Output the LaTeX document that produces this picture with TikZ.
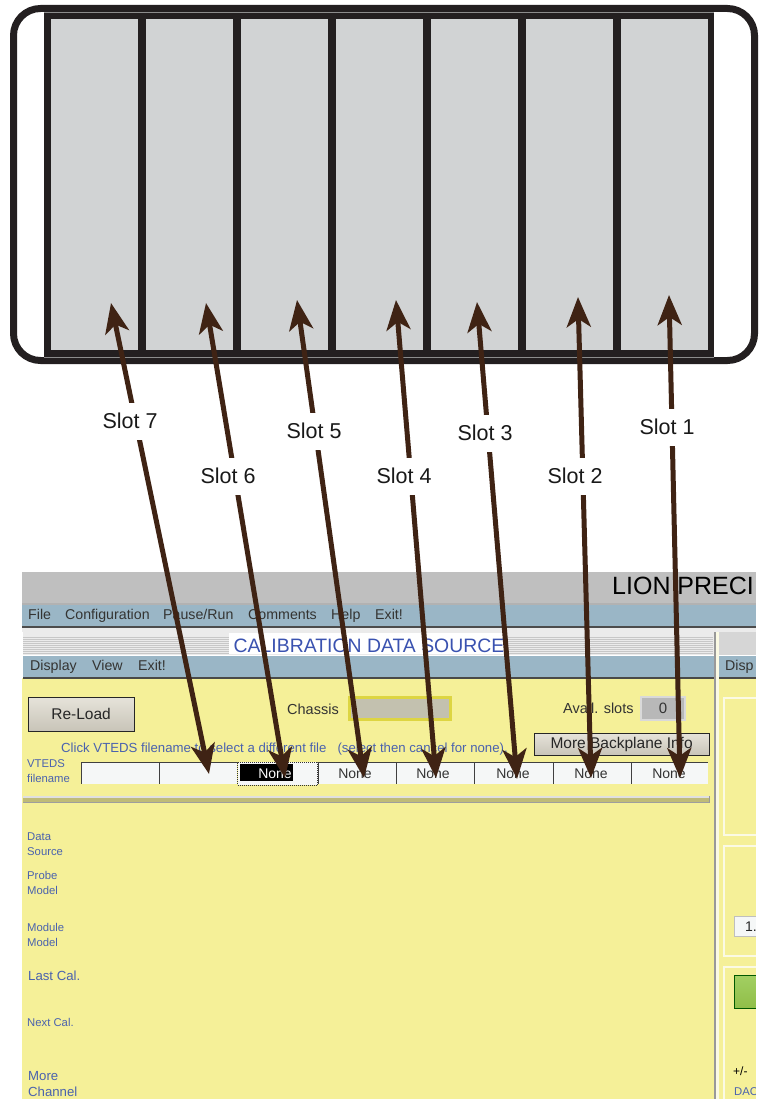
\documentclass[tikz,border=0pt]{standalone}
\usepackage{fontspec}
\setmainfont{Liberation Sans}
\usetikzlibrary{arrows.meta,positioning,calc}
\definecolor{chassisink}{HTML}{231F20}
\definecolor{cellgray}{HTML}{D1D3D4}
\definecolor{arrowbrown}{HTML}{3F2314}
\definecolor{topgray}{HTML}{BFBFBF}
\definecolor{menublue}{HTML}{9AB6C6}
\definecolor{panelyellow}{HTML}{F5F098}
\definecolor{guiblue}{HTML}{4A62AE}
\definecolor{titleblue}{HTML}{3A52B0}
\definecolor{guidark}{HTML}{4A4A48}
\definecolor{cellwhite}{HTML}{F5F7F7}
\definecolor{ivory}{HTML}{FBFAE4}
\definecolor{btntop}{HTML}{E6E3DA}
\definecolor{btnbot}{HTML}{C8C4B8}
\definecolor{greentop}{HTML}{A2CF62}
\definecolor{greenbot}{HTML}{90BE48}
\newcommand{\fsz}[1]{\fontsize{#1}{#1}\selectfont}
\tikzset{
  x=1pt,y=-1pt,
  slotcell/.style={fill=cellgray,draw=none,inner sep=0pt},
  slotlabel/.style={fill=white,inner sep=0pt,minimum width=60pt,minimum height=37pt,font=\fsz{21.5},text=black!90},
  callout/.style={draw=arrowbrown,line width=5pt,{Stealth[length=30pt,width=24pt,inset=8pt]}-{Stealth[length=30pt,width=24pt,inset=8pt]}},
  menutext/.style={anchor=base west,inner sep=0pt,font=\fsz{14.2},text=guidark!70!black},
  bluetext/.style={anchor=base west,inner sep=0pt,font=\fsz{11.3},text=guiblue},
  bluemid/.style={anchor=base west,inner sep=0pt,font=\fsz{13.2},text=guiblue},
  darktext/.style={anchor=base west,inner sep=0pt,font=\fsz{14.5},text=black!80},
  guibutton/.style={draw=black!85,line width=1.2pt,top color=btntop,bottom color=btnbot,inner sep=0pt,font=\fsz{15.5},text=black!85},
  vcell/.style={fill=cellwhite,draw=none,inner sep=0pt},
  celltext/.style={inner sep=0pt,anchor=base,font=\fsz{14},text=black!80},
  vedge/.style={draw=black!75,line width=1pt},
  framebox/.style={draw=ivory,line width=2pt},
}
\begin{document}
\begin{tikzpicture}
\useasboundingbox (0,0) rectangle (760,1099);
\fill[white] (0,0) rectangle (760,1099);

% chassis
\draw[chassisink,line width=7pt,rounded corners=27pt] (13.5,8.5) rectangle (754.5,360.5);
\fill[chassisink] (44,12) rectangle (714,357);
\foreach \n/\xa in {7/51,6/146,5/241,4/336,3/431,2/526,1/621}{
  \node[slotcell,minimum width=87pt,minimum height=331pt,anchor=north west] (cell\n) at (\xa,19) {};
}
\draw[black!45,line width=.5pt] (44,12.5) -- (714,12.5) (44,357) -- (714,357);

% screenshot backgrounds
\fill[topgray] (22,572) rectangle (756,603.5);
\fill[black!30] (22,603) rectangle (756,605);
\fill[menublue] (22,605) rectangle (756,626);
\fill[black!70] (22,626) rectangle (756,628);
\fill[white!92!black] (22,628) rectangle (756,632);
\fill[panelyellow] (22,678) rectangle (756,1099);
% left panel title strip
\fill[black!8] (23,632) rectangle (715,655);
\foreach \yy in {637,639,...,653}{
  \draw[black!22,line width=.8pt] (23,\yy) -- (229,\yy);
  \draw[black!22,line width=.8pt] (505,\yy) -- (713,\yy);
}
\node[fill=white,inner sep=0pt,minimum width=276pt,minimum height=21pt,anchor=north west] (title) at (229,633) {};
\node[anchor=base,inner sep=0pt,font=\fsz{19.4},text=titleblue] (titletext) at (369,652) {CALIBRATION DATA SOURCE};
\fill[menublue] (23,656) rectangle (715,677);
\fill[guidark] (23,677) rectangle (715,678.5);
% right panel header
\fill[black!16] (718,632) rectangle (756,655);
\fill[menublue] (718,656) rectangle (756,677);
\fill[guidark] (718,677) rectangle (756,678.5);
% divider
\fill[black!40] (714,632) rectangle (716,1099);
\fill[ivory] (716,632) rectangle (719,1099);

% right sub-panels
\draw[framebox] (756,698) -- (724,698) -- (724,835) -- (756,835);
\draw[framebox] (756,846) -- (724,846) -- (724,956) -- (756,956);
\draw[framebox] (756,967) -- (724,967) -- (724,1099);
\node[fill=cellwhite,draw=black!25,line width=1pt,inner sep=0pt,minimum width=24pt,minimum height=20pt,anchor=north west] (scale) at (734,916) {};
\node[anchor=base west,inner sep=0pt,font=\fsz{14},text=black!85] (scaletext) at (745,931) {1.};
\node[draw=black!65!green,line width=1pt,top color=greentop,bottom color=greenbot,inner sep=0pt,minimum width=24pt,minimum height=33pt,anchor=north west] (green) at (734,975) {};
\node[menutext] (disp) at (725,670) {Disp};
\node[anchor=base west,inner sep=0pt,font=\fsz{12},text=black] (plusminus) at (733,1075) {+/-};
\node[bluetext] (dac) at (734,1095) {DAC};

% top texts
\node[anchor=base west,inner sep=0pt,font=\fsz{25},text=black] (lion) at (612,594) {LION PRECI};
\node[menutext] (mfile) at (28,619) {File};
\node[menutext] (mconf) at (65,619) {Configuration};
\node[menutext] (mpause) at (163,619) {Pause/Run};
\node[menutext] (mcomm) at (248,619) {Comments};
\node[menutext] (mhelp) at (331,619) {Help};
\node[menutext] (mexit) at (375,619) {Exit!};
\node[menutext] (sdisp) at (30,670) {Display};
\node[menutext] (sview) at (92,670) {View};
\node[menutext] (sexit) at (138,670) {Exit!};

% controls
\node[guibutton,minimum width=106pt,minimum height=34pt,anchor=north west] (reload) at (27.5,696.5) {Re-Load};
\node[darktext] (chassis) at (287,714.5) {Chassis};
\node[fill=black!30!white!90!yellow,draw=yellow!70!gray,line width=2.5pt,inner sep=0pt,minimum width=101pt,minimum height=22pt,anchor=north west] (chfield) at (348,696) {};
\node[darktext] (avail) at (563,713) {Avail. slots};
\node[fill=black!28,draw=black!15,line width=2pt,inner sep=0pt,minimum width=44pt,minimum height=23pt,anchor=north west,font=\fsz{15},text=black!80] (slots) at (640,696) {0};
\node[guibutton,minimum width=175pt,minimum height=22pt,anchor=north west] (backplane) at (533.5,732.5) {More Backplane Info};
\node[bluemid] (click) at (61,752) {Click VTEDS filename to select a different file\ \ \ (select then cancel for none).};
\node[bluetext] (vt1) at (27,767) {VTEDS};
\node[bluetext] (vt2) at (27,782) {filename};

% VTEDS cells
\foreach \nm/\xa/\cw/\mx/\ct in {a/81/78/120/,b/159/78/198/,d/318/78/355/None,e/396/78/433/None,f/474/79/513/None,g/553/78/591/None,h/631/77/669/None}{
  \node[vcell,minimum width=\cw pt,minimum height=21pt,anchor=north west] (vc\nm) at (\xa,762.5) {};
  \draw[vedge] (vc\nm.south west) -- (vc\nm.north west) -- (vc\nm.north east);
  \node[celltext] (vt\nm) at (\mx,778.5) {\ct};
}
\node[fill=cellwhite,draw=black!80,densely dotted,line width=1pt,inner sep=0pt,minimum width=80pt,minimum height=23pt,anchor=north west] (vcc) at (237,761.5) {};
\node[fill=black,inner sep=0pt,minimum width=53pt,minimum height=17pt,anchor=north west] (vcsel) at (240,764) {};
\node[celltext,text=white] (vcseltext) at (275,778.5) {None};
% separator
\fill[black!22!panelyellow] (23,796) rectangle (710,802);
\fill[black!12] (23,796) rectangle (710,798);
\fill[black!38] (23,801.5) rectangle (710,802.5);
\fill[black!40] (708.5,796) rectangle (710,802.5);

% left labels
\node[bluetext] (l1a) at (27,840) {Data};
\node[bluetext] (l1b) at (27,855.5) {Source};
\node[bluetext] (l2a) at (27,879.5) {Probe};
\node[bluetext] (l2b) at (27,894.5) {Model};
\node[bluetext] (l3a) at (27,931) {Module};
\node[bluetext] (l3b) at (27,946) {Model};
\node[bluemid] (l4) at (28,980.5) {Last Cal.};
\node[bluetext] (l5) at (27,1026.5) {Next Cal.};
\node[bluemid] (l6a) at (28,1080) {More};
\node[bluemid] (l6b) at (28,1096) {Channel};

% trim the screenshot's right edge
\fill[white] (756,572) rectangle (760,1099);

% callouts
\foreach \n/\lx/\ly/\ux/\uy/\dx/\dy in {
  7/130/421/111/303/209/774,
  6/228/476/206/303/285/778,
  5/314/431/297/300/364/778,
  4/404/476/396/300/436/778,
  3/485/433/477/302/517/779,
  2/575/476/578/297/591/778,
  1/667/427/669/295/680/778}{
  \coordinate (up\n) at (\ux,\uy);
  \coordinate (dn\n) at (\dx,\dy);
  \draw[callout] (up\n) -- (dn\n);
  \node[slotlabel] (lab\n) at (\lx,\ly) {Slot \n};
}
\end{tikzpicture}
\end{document}
